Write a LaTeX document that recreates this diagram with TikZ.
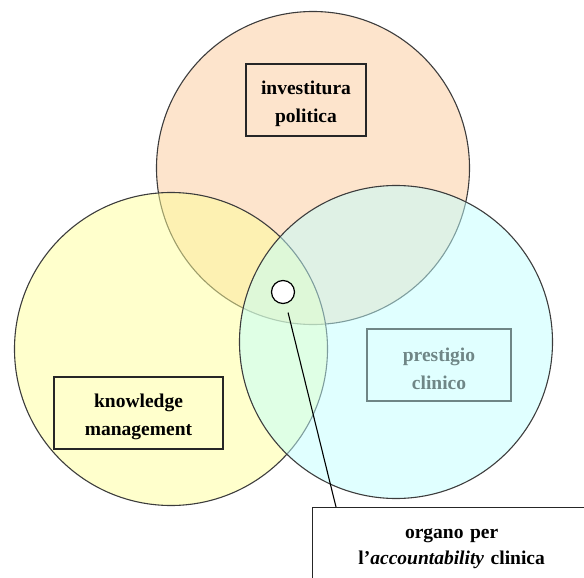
\documentclass[tikz,border=0pt]{standalone}
\usepackage{fontspec}
\setmainfont{Liberation Serif}
\usetikzlibrary{positioning}
\definecolor{polorange}{RGB}{251,201,153}
\definecolor{knowyellow}{RGB}{255,255,153}
\definecolor{clincyan}{RGB}{193,255,255}
\definecolor{rimgray}{HTML}{3C3C3C}
\definecolor{mutedgray}{HTML}{6F8686}
\newcommand{\lift}{\rule{0pt}{21pt}}
\newcommand{\sink}{\rule[-25pt]{0pt}{0pt}}

\begin{document}
\begin{tikzpicture}[
		x=1pt, y=-1pt,
		font=\fontsize{19.5}{28.5}\selectfont\bfseries,
		venn/.style={circle, draw=rimgray, fill=#1, fill opacity=0.5,
				draw opacity=1, line width=1.1pt, minimum size=313pt, inner sep=0pt},
		tag/.style={draw=black!85, line width=1.3pt, align=center,
				minimum height=72pt, inner sep=0pt},
	]

	\clip (0,0) rectangle (584,578);

	\node[venn=polorange] (pol) at (313,168) {};
	\node[venn=knowyellow] (know) at (171,349) {};
	\node[venn=clincyan] (clin) at (396,342) {};

	\node[tag, minimum width=120pt] (poltag) at (306,100)
	{\lift investitura\\politica};

	\node[tag, minimum width=144pt, draw=mutedgray, text=mutedgray] (clintag) at (439,365)
	{\lift prestigio\\clinico};

	\node[tag, minimum width=169pt] (knowtag) at (138.5,413)
	{\lift knowledge\\management};

	\node[circle, draw=black, fill=white, line width=1.2pt,
		minimum size=23pt, inner sep=0pt] (dot) at (283,292) {};

	\node[draw=black!85, fill=white, line width=1.3pt, anchor=north west,
		minimum width=278pt, text width=270pt,
		align=center, inner ysep=21pt,
		font=\fontsize{19.5}{26}\selectfont\bfseries] (organo) at (312,507)
	{organo per\\l'\textit{accountability} clinica\sink};

	\draw[line width=1.1pt, shorten <=9pt] (dot) -- ([xshift=24pt]organo.north west);

\end{tikzpicture}
\end{document}
